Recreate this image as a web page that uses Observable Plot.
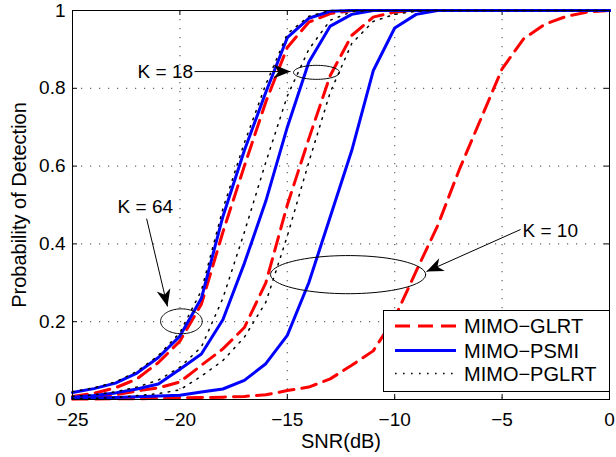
<!DOCTYPE html>
<html><head><meta charset="utf-8">
<script src="https://cdn.jsdelivr.net/npm/d3@7"></script>
<script src="https://cdn.jsdelivr.net/npm/@observablehq/plot@0.6"></script>
<style>
body{margin:0;background:#fff;}
#wrap{position:relative;width:616px;height:457px;font-family:"Liberation Sans",Arial,sans-serif;}
#legend{position:absolute;left:383px;top:310px;}
</style></head><body><div id="wrap"></div>
<script>
// ---- data ----
const snr = [-25,-24,-23,-22,-21,-20,-19,-18,-17,-16,-15,-14,-13,-12,-11,-10,-9,-8,-7,-6,-5,-4,-3,-2,-1,0];

// K = 64
const glrtK64  = [0.008,0.016,0.030,0.053,0.095,0.150,0.245,0.430,0.600,0.765,0.905,0.970,0.992,1,1,1,1,1,1,1,1,1,1,1,1,1];
const psmiK64  = [0.018,0.028,0.042,0.068,0.108,0.163,0.260,0.470,0.640,0.790,0.930,0.980,0.998,1,1,1,1,1,1,1,1,1,1,1,1,1];
const pglrtK64 = [0.020,0.030,0.045,0.072,0.113,0.172,0.280,0.490,0.660,0.810,0.940,0.985,1,1,1,1,1,1,1,1,1,1,1,1,1,1];
// K = 18
const glrtK18  = [0.002,0.005,0.012,0.022,0.030,0.045,0.088,0.130,0.185,0.300,0.500,0.670,0.833,0.936,0.983,0.996,1,1,1,1,1,1,1,1,1,1];
const psmiK18  = [0.006,0.010,0.017,0.027,0.040,0.078,0.117,0.205,0.350,0.510,0.700,0.867,0.960,0.990,1,1,1,1,1,1,1,1,1,1,1,1];
const pglrtK18 = [0.008,0.012,0.020,0.032,0.050,0.083,0.135,0.260,0.430,0.610,0.780,0.900,0.975,0.997,1,1,1,1,1,1,1,1,1,1,1,1];
// K = 10
const glrtK10  = [0.001,0.001,0.002,0.002,0.003,0.004,0.005,0.006,0.008,0.012,0.023,0.032,0.053,0.088,0.125,0.210,0.330,0.447,0.590,0.720,0.850,0.927,0.965,0.985,0.996,1];
const psmiK10  = [0.003,0.004,0.005,0.007,0.009,0.011,0.019,0.027,0.049,0.092,0.165,0.300,0.470,0.640,0.845,0.955,0.990,1,1,1,1,1,1,1,1,1];
const pglrtK10 = [0.002,0.003,0.005,0.010,0.015,0.025,0.060,0.100,0.160,0.250,0.420,0.610,0.790,0.915,0.972,0.990,0.998,1,1,1,1,1,1,1,1,1];

const methods = ["MIMO\u2212GLRT","MIMO\u2212PSMI","MIMO\u2212PGLRT"];

const xTicks = [-25,-20,-15,-10,-5,0];
const xTickLabels = ["\u221225","\u221220","\u221215","\u221210","\u22125","0"];
const yTicks = [0,0.2,0.4,0.6,0.8,1];
const yTickLabels = ["0","0.2","0.4","0.6","0.8","1"];

// annotations
const annoText = ["K = 64","K = 18","K = 10"];
const annoTextX = [-22.9,-21.97,-4.05];
const annoTextY = [0.496,0.843,0.434];
const arrowX1 = [-21.55,-19.32,-4.14];
const arrowY1 = [0.465,0.843,0.437];
const arrowX2 = [-20.58,-14.85,-8.52];
const arrowY2 = [0.239,0.843,0.329];
const ellCx = [-19.93,-13.64,-12.17];
const ellCy = [0.201,0.841,0.321];
const ellRx = [0.97,1.07,3.61];
const ellRy = [0.032,0.018,0.049];

// ---- tables ----
function rows(vals, id){ return vals.map((v,i)=>({snr:snr[i], pd:v, id})); }
const glrtRows  = [...rows(glrtK64,"64"),...rows(glrtK18,"18"),...rows(glrtK10,"10")];
const psmiRows  = [...rows(psmiK64,"64"),...rows(psmiK18,"18"),...rows(psmiK10,"10")];
const pglrtRows = [...rows(pglrtK64,"64"),...rows(pglrtK18,"18"),...rows(pglrtK10,"10")];

const ellRows = [];
ellCx.forEach((cx,k)=>{ for(let a=0;a<=360;a+=4){ const t=a*Math.PI/180; ellRows.push({x:cx+ellRx[k]*Math.cos(t), y:ellCy[k]+ellRy[k]*Math.sin(t), k}); } });
const arrows = annoText.map((t,i)=>({x1:arrowX1[i],y1:arrowY1[i],x2:arrowX2[i],y2:arrowY2[i]}));
const labels = annoText.map((t,i)=>({x:annoTextX[i],y:annoTextY[i],t}));

const W=616,H=457, mL=72,mR=7,mT=10,mB=58;
const tickLenY = 5/(H-mT-mB);
const tickLenX = 5*25/(W-mL-mR);

const chart = Plot.plot({
  width: W, height: H,
  marginLeft: mL, marginRight: mR, marginTop: mT, marginBottom: mB,
  style: {fontFamily:"'Liberation Sans', Arial, sans-serif", fontSize:"19px", color:"black", background:"white"},
  x: {domain:[-25,0], ticks:xTicks, tickFormat:(d)=>xTickLabels[xTicks.indexOf(d)], tickSize:0, tickPadding:13, label:null},
  y: {domain:[0,1], ticks:yTicks, tickFormat:(d)=>yTickLabels[yTicks.indexOf(d)], tickSize:0, tickPadding:7, label:null},
  marks: [
    Plot.ruleX(xTicks.filter(d=>d>-25&&d<0), {stroke:"#666", strokeWidth:1.2, strokeDasharray:"1.2,7.8"}),
    Plot.ruleY(yTicks.filter(d=>d>0&&d<1), {stroke:"#666", strokeWidth:1.2, strokeDasharray:"1.2,7.8"}),
    Plot.ruleX(xTicks, {y1:0, y2:tickLenY, stroke:"black"}),
    Plot.ruleX(xTicks, {y1:1, y2:1-tickLenY, stroke:"black"}),
    Plot.ruleY(yTicks, {x1:-25, x2:-25+tickLenX, stroke:"black"}),
    Plot.ruleY(yTicks, {x1:0, x2:-tickLenX, stroke:"black"}),
    Plot.line(glrtRows, {x:"snr", y:"pd", z:"id", stroke:"#ff0000", strokeWidth:3, strokeDasharray:"15,8"}),
    Plot.line(psmiRows, {x:"snr", y:"pd", z:"id", stroke:"#0000ff", strokeWidth:3}),
    Plot.line(pglrtRows, {x:"snr", y:"pd", z:"id", stroke:"black", strokeWidth:1.5, strokeDasharray:"1.6,6.4"}),
    Plot.line(ellRows, {x:"x", y:"y", z:"k", stroke:"black", strokeWidth:1}),
    Plot.link(arrows, {x1:"x1", y1:"y1", x2:"x2", y2:"y2", stroke:"black", strokeWidth:1}),
    Plot.text(labels, {x:"x", y:"y", text:"t", textAnchor:"start", fontSize:19}),
    Plot.text(["Probability of Detection"], {frameAnchor:"left", textAnchor:"middle", dx:-53, rotate:-90, fontSize:20}),
    Plot.text(["SNR(dB)"], {frameAnchor:"bottom", textAnchor:"middle", lineAnchor:"middle", dy:42, fontSize:20}),
    Plot.frame({stroke:"black", strokeWidth:1})
  ]
});

// filled MATLAB-style arrowheads
const ns="http://www.w3.org/2000/svg";
const defs=document.createElementNS(ns,"defs");
const mk=document.createElementNS(ns,"marker");
mk.setAttribute("id","ahead"); mk.setAttribute("markerUnits","userSpaceOnUse");
mk.setAttribute("viewBox","-18 -8 19 16"); mk.setAttribute("refX","0"); mk.setAttribute("refY","0");
mk.setAttribute("markerWidth","19"); mk.setAttribute("markerHeight","16"); mk.setAttribute("orient","auto");
const hp=document.createElementNS(ns,"path"); hp.setAttribute("d","M0,0L-17,-7L-12,0L-17,7Z"); hp.setAttribute("fill","black");
mk.appendChild(hp); defs.appendChild(mk); chart.insertBefore(defs, chart.firstChild);
chart.querySelectorAll('g[aria-label="link"] path').forEach(p=>p.setAttribute("marker-end","url(#ahead)"));

const wrap=document.getElementById("wrap");
wrap.appendChild(chart);

// legend (inside axes, lower right)
const lg = d3.create("svg").attr("id","legend").attr("width",227).attr("height",82);
lg.append("rect").attr("x",0.5).attr("y",0.5).attr("width",226).attr("height",81).attr("fill","white").attr("stroke","black");
const lstyle=[{stroke:"#ff0000",w:3,dash:"15,8"},{stroke:"#0000ff",w:3,dash:null},{stroke:"black",w:1.5,dash:"1.6,6.4"}];
const rowY=[16,40.5,63.5];
methods.forEach((m,i)=>{
  const l=lg.append("line").attr("x1",12).attr("x2",73).attr("y1",rowY[i]).attr("y2",rowY[i]).attr("stroke",lstyle[i].stroke).attr("stroke-width",lstyle[i].w);
  if(lstyle[i].dash) l.attr("stroke-dasharray",lstyle[i].dash);
  lg.append("text").attr("x",81).attr("y",rowY[i]+7).attr("font-family","'Liberation Sans', Arial, sans-serif").attr("font-size",20).text(m);
});
wrap.appendChild(lg.node());
</script></body></html>
